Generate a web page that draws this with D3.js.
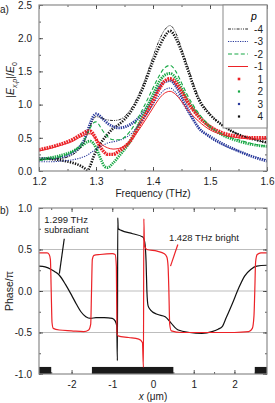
<!DOCTYPE html>
<html>
<head>
<meta charset="utf-8">
<script src="https://cdn.jsdelivr.net/npm/d3@7"></script>
<style>
  body { margin: 0; background: #fff; }
  svg { display: block; font-family: "Liberation Sans", Arial, sans-serif; }
  .tick text { font-size: 10px; fill: #222; }
</style>
</head>
<body>
<div id="chart"></div>
<script>
// ---- panel a) data : |E_x,p|/E0 vs frequency (THz)
var freq = [1.20,1.22,1.24,1.26,1.27,1.28,1.285,1.29,1.295,1.30,1.305,1.31,1.315,1.32,1.33,1.34,1.36,1.38,1.40,1.41,1.42,1.43,1.44,1.45,1.46,1.48,1.50,1.52,1.55,1.58,1.60];
var pM4 = [0.17,0.18,0.19,0.25,0.32,0.45,0.56,0.68,0.77,0.82,0.81,0.80,0.78,0.77,0.76,0.77,0.92,1.25,1.72,1.95,2.12,2.19,2.08,1.85,1.60,1.12,0.86,0.70,0.55,0.47,0.42];
var pM3 = [0.14,0.14,0.15,0.17,0.19,0.22,0.24,0.27,0.30,0.33,0.36,0.38,0.40,0.42,0.44,0.46,0.55,0.75,1.00,1.13,1.22,1.25,1.18,1.05,0.90,0.66,0.50,0.40,0.30,0.21,0.17];
var pM2 = [0.16,0.18,0.22,0.30,0.37,0.48,0.56,0.65,0.72,0.74,0.70,0.63,0.57,0.52,0.47,0.47,0.60,0.90,1.25,1.42,1.55,1.59,1.50,1.33,1.15,0.87,0.68,0.56,0.47,0.40,0.37];
var pM1 = [0.30,0.34,0.39,0.45,0.50,0.54,0.56,0.56,0.53,0.48,0.44,0.40,0.37,0.35,0.33,0.34,0.45,0.68,0.95,1.08,1.17,1.20,1.15,1.05,0.93,0.75,0.62,0.55,0.50,0.48,0.48];
var pP1 = [0.32,0.36,0.41,0.48,0.53,0.58,0.60,0.60,0.56,0.48,0.40,0.33,0.28,0.25,0.25,0.30,0.45,0.75,1.05,1.22,1.35,1.39,1.33,1.20,1.05,0.82,0.67,0.58,0.52,0.50,0.50];
var pP2 = [0.17,0.20,0.24,0.30,0.35,0.41,0.44,0.45,0.42,0.35,0.25,0.15,0.07,0.05,0.12,0.22,0.45,0.80,1.15,1.33,1.44,1.47,1.40,1.25,1.08,0.84,0.66,0.55,0.45,0.39,0.37];
var pP3 = [0.18,0.19,0.21,0.28,0.35,0.48,0.60,0.72,0.82,0.86,0.84,0.80,0.76,0.72,0.67,0.65,0.70,0.85,1.10,1.25,1.34,1.36,1.28,1.12,0.95,0.65,0.52,0.42,0.30,0.20,0.15];
var pP4 = [0.19,0.18,0.16,0.12,0.09,0.04,0.01,0.08,0.20,0.30,0.38,0.44,0.50,0.55,0.64,0.70,0.88,1.20,1.65,1.85,2.02,2.11,2.00,1.80,1.55,1.08,0.85,0.70,0.55,0.47,0.43];
var freqTicks = [1.2,1.3,1.4,1.5,1.6];
var fieldTicks = [0,0.5,1,1.5,2,2.5];

// ---- panel b) data : phase/pi vs x (um)
var subX = [-2.8,-2.65,-2.5,-2.4,-2.3,-2.15,-2.0,-1.88,-1.77,-1.65,-1.53,-1.4,-1.2,-1.0,-0.93,-0.89,-0.875,-0.865,-0.855,-0.78,-0.5,-0.25,-0.2,-0.17,-0.15,-0.12,-0.06,0.1,0.3,0.45,0.62,0.9,1.2,1.45,1.6,1.7,1.8,1.95,2.1,2.25,2.4,2.55,2.8];
var subY = [0.30,0.29,0.26,0.23,0.19,0.08,-0.05,-0.16,-0.25,-0.31,-0.33,-0.32,-0.32,-0.33,-0.36,-0.42,-0.84,0.88,0.75,0.73,0.69,0.65,0.58,0.35,0.0,-0.18,-0.23,-0.28,-0.31,-0.39,-0.47,-0.50,-0.51,-0.49,-0.46,-0.43,-0.32,-0.15,0.03,0.18,0.26,0.30,0.31];
var brX = [-2.8,-2.6,-2.55,-2.52,-2.5,-2.48,-2.45,-2.3,-2.0,-1.7,-1.58,-1.53,-1.51,-1.49,-1.45,-1.3,-1.0,-0.93,-0.9,-0.885,-0.86,-0.6,-0.35,-0.26,-0.235,-0.225,-0.21,-0.15,0.1,0.28,0.34,0.37,0.39,0.41,0.45,0.7,1.2,2.0,2.35,2.44,2.48,2.5,2.52,2.56,2.65,2.8];
var brY = [0.46,0.46,0.44,0.38,0.0,-0.38,-0.45,-0.47,-0.48,-0.49,-0.47,-0.40,0.0,0.38,0.43,0.44,0.45,0.44,0.30,-0.50,-0.54,-0.56,-0.58,-0.62,-0.92,0.87,0.55,0.50,0.48,0.45,0.41,0.30,0.0,-0.40,-0.48,-0.50,-0.50,-0.50,-0.49,-0.45,-0.30,0.0,0.35,0.44,0.46,0.46];
var metalStart = [-2.8,-1.5,2.5];
var metalEnd = [-2.5,0.5,2.8];
var posTicks = [-2,-1,0,1,2];
var phaseTicks = [-1,-0.5,0,0.5,1];

var W = 275, H = 403;
var svg = d3.select('#chart').append('svg').attr('width',W).attr('height',H);

var RED = '#ec2227', GREEN = '#17a844', BLUE = '#2a3a9c', BLACK = '#111';

// ================= panel a)
var fx = d3.scaleLinear().domain([1.2,1.6]).range([39,267]);
var fy = d3.scaleLinear().domain([0,2.5]).range([171,5]);

function makeAxis(scale, orient) {
	if(orient=='bottom') return d3.axisBottom(scale);
	if(orient=='top') return d3.axisTop(scale);
	if(orient=='left') return d3.axisLeft(scale);
	return d3.axisRight(scale);
}

// inward ticks: short minor ones, longer major ones (with labels if fmt given)
function ticksInside(g, scale, orient, major, minor, fmt) {
	g.call(makeAxis(scale,orient).tickValues(minor).tickSize(-2).tickFormat(''));
	g.select('.domain').remove();
	var g2 = g.append('g');
	g2.call(makeAxis(scale,orient).tickValues(major).tickSize(-4).tickPadding(7).tickFormat(fmt || ''));
	g2.select('.domain').remove();
	g.selectAll('line').attr('stroke','#333').attr('stroke-width',0.8);
}

var minorF = d3.range(1.2,1.6001,0.05).map(function(d){return +d.toFixed(2);});
var minorE = d3.range(0,2.5001,0.25);

var ga = svg.append('g');
ticksInside(ga.append('g').attr('transform','translate(0,171)'), fx, 'bottom', freqTicks, minorF, d3.format('.1f'));
ticksInside(ga.append('g').attr('transform','translate(0,5)'), fx, 'top', freqTicks, minorF);
ticksInside(ga.append('g').attr('transform','translate(39,0)'), fy, 'left', fieldTicks, minorE, d3.format('.1f'));
ticksInside(ga.append('g').attr('transform','translate(267,0)'), fy, 'right', fieldTicks, minorE);
ga.selectAll('.tick text').attr('font-size',10);

svg.append('clipPath').attr('id','clipA').append('rect')
	.attr('x',39).attr('y',5).attr('width',228).attr('height',166);

var lineA = function(vals) {
	return d3.line().x(function(d,i){return fx(freq[i]);}).y(function(d){return fy(d);})
		.curve(d3.curveMonotoneX)(vals);
};

// positive p drawn as dense markers (thick dotted strokes), negative p as lines
var seriesA = [
	{p:'4', vals:pP4, color:BLACK, width:2.6, dash:'1.3,1.3', marker:true},
	{p:'3', vals:pP3, color:BLUE, width:2.8, dash:'1.3,1', marker:true},
	{p:'2', vals:pP2, color:GREEN, width:2.8, dash:'1.3,1', marker:true},
	{p:'1', vals:pP1, color:RED, width:3.4, dash:'1.8,0.8', marker:true},
	{p:'-4', vals:pM4, color:BLACK, width:0.9, dash:'3,1.2,1,1.2,1,1.2', marker:false},
	{p:'-3', vals:pM3, color:BLUE, width:1.1, dash:'1.2,1.2', marker:false},
	{p:'-2', vals:pM2, color:GREEN, width:1.1, dash:'4,2.4', marker:false},
	{p:'-1', vals:pM1, color:RED, width:1, dash:null, marker:false}
];

var plotA = svg.append('g').attr('clip-path','url(#clipA)');
plotA.selectAll('path').data(seriesA).enter().append('path')
	.attr('d',function(s){return lineA(s.vals);})
	.attr('fill','none')
	.attr('stroke',function(s){return s.color;})
	.attr('stroke-width',function(s){return s.width;})
	.attr('stroke-dasharray',function(s){return s.dash;});

svg.append('rect').attr('x',39).attr('y',5).attr('width',228).attr('height',166)
	.attr('fill','none').attr('stroke','#8a8a8a').attr('stroke-width',1.2);

// legend
var legOrder = ['-4','-3','-2','-1','1','2','3','4'];
var leg = svg.append('g');
leg.append('rect').attr('x',223).attr('y',5).attr('width',44).attr('height',123)
	.attr('fill','#fff').attr('stroke','#8a8a8a').attr('stroke-width',1);
leg.append('text').attr('x',254).attr('y',20).attr('font-size',10.5).attr('font-style','italic')
	.attr('text-anchor','middle').text('p');
legOrder.forEach(function(p,i){
	var s = seriesA.filter(function(d){return d.p==p;})[0];
	var y = 29 + i*12.5;
	if(s.marker) {
		var sz = s.p=='1' ? 2.6 : 2.2;
		leg.append('rect').attr('x',239-sz/2).attr('y',y-sz/2).attr('width',sz).attr('height',sz).attr('fill',s.color);
	} else {
		leg.append('line').attr('x1',228).attr('x2',248).attr('y1',y).attr('y2',y)
			.attr('stroke',s.color).attr('stroke-width',s.width).attr('stroke-dasharray',s.dash);
	}
	leg.append('text').attr('x',263).attr('y',y+3.6).attr('font-size',10).attr('text-anchor','end')
		.attr('fill','#222').text(p);
});

// axis titles a)
svg.append('text').attr('x',153).attr('y',197).attr('font-size',10).attr('text-anchor','middle')
	.attr('fill','#222').text('Frequency (THz)');
var yt = svg.append('text').attr('transform','translate(14,80) rotate(-90)')
	.attr('font-size',10.5).attr('text-anchor','middle').attr('fill','#222');
yt.append('tspan').text('|');
yt.append('tspan').attr('font-style','italic').text('E');
yt.append('tspan').attr('font-size',7).attr('dy',2.5).attr('font-style','italic').text('x,p');
yt.append('tspan').attr('dy',-2.5).text('|/');
yt.append('tspan').attr('font-style','italic').text('E');
yt.append('tspan').attr('font-size',7).attr('dy',2.5).text('0');
svg.append('text').attr('x',0).attr('y',13).attr('font-size',10).attr('fill','#222').text('a)');

// ================= panel b)
var bx = d3.scaleLinear().domain([-2.8,2.8]).range([39,267]);
var by = d3.scaleLinear().domain([-1,1]).range([374,208]);

var gb = svg.append('g');
gb.selectAll('line.grid').data([-0.5,0,0.5]).enter().append('line')
	.attr('x1',39).attr('x2',267).attr('y1',function(d){return by(d);}).attr('y2',function(d){return by(d);})
	.attr('stroke','#bdbdbd').attr('stroke-width',1);

var minorX = d3.range(-2.5,2.8,0.5);
var minorP = d3.range(-1,1.0001,0.25);
ticksInside(gb.append('g').attr('transform','translate(0,374)'), bx, 'bottom', posTicks, minorX, d3.format('d'));
ticksInside(gb.append('g').attr('transform','translate(0,208)'), bx, 'top', posTicks, minorX);
ticksInside(gb.append('g').attr('transform','translate(39,0)'), by, 'left', phaseTicks, minorP, d3.format('.1f'));
ticksInside(gb.append('g').attr('transform','translate(267,0)'), by, 'right', phaseTicks, minorP);
gb.selectAll('.tick text').attr('font-size',10);
gb.selectAll('.tick text').text(function(){ return d3.select(this).text().replace('\u2212','-'); });

// metal bars
gb.selectAll('rect.metal').data(metalStart).enter().append('rect')
	.attr('x',function(d){return bx(d);})
	.attr('width',function(d,i){return bx(metalEnd[i])-bx(d);})
	.attr('y',by(-0.915)).attr('height',by(-1)-by(-0.915))
	.attr('fill','#1a1a1a');

var lineB = d3.line().x(function(d){return bx(d[0]);}).y(function(d){return by(d[1]);}).curve(d3.curveMonotoneX);
var subPts = subX.map(function(x,i){return [x,subY[i]];});
var brPts = brX.map(function(x,i){return [x,brY[i]];});
gb.append('path').attr('d',lineB(subPts)).attr('fill','none').attr('stroke',BLACK).attr('stroke-width',1.2);
gb.append('path').attr('d',lineB(brPts)).attr('fill','none').attr('stroke',RED).attr('stroke-width',1.2);

svg.append('rect').attr('x',39).attr('y',208).attr('width',228).attr('height',166)
	.attr('fill','none').attr('stroke','#8a8a8a').attr('stroke-width',1.2);

// annotations
svg.append('text').attr('x',bx(-2.67)).attr('y',by(0.82)).attr('font-size',9.5).attr('fill','#222').text('1.299 THz');
svg.append('text').attr('x',bx(-2.67)).attr('y',by(0.70)).attr('font-size',9.5).attr('fill','#222').text('subradiant');
svg.append('line').attr('x1',bx(-2.18)).attr('y1',by(0.63)).attr('x2',bx(-2.30)).attr('y2',by(0.21))
	.attr('stroke',BLACK).attr('stroke-width',1.2);
svg.append('text').attr('x',bx(0.39)).attr('y',by(0.60)).attr('font-size',9.5).attr('fill','#222').text('1.428 THz bright');
svg.append('line').attr('x1',bx(0.61)).attr('y1',by(0.56)).attr('x2',bx(0.43)).attr('y2',by(0.30))
	.attr('stroke',RED).attr('stroke-width',1.2);

svg.append('text').attr('x',153).attr('y',400).attr('font-size',10).attr('text-anchor','middle').attr('fill','#222')
	.html('<tspan font-style="italic">x</tspan> (\u03bcm)');
svg.append('text').attr('transform','translate(13,291) rotate(-90)').attr('font-size',10.5)
	.attr('text-anchor','middle').attr('fill','#222').text('Phase/\u03c0');
svg.append('text').attr('x',0).attr('y',214).attr('font-size',10).attr('fill','#222').text('b)');
</script>
</body>
</html>
